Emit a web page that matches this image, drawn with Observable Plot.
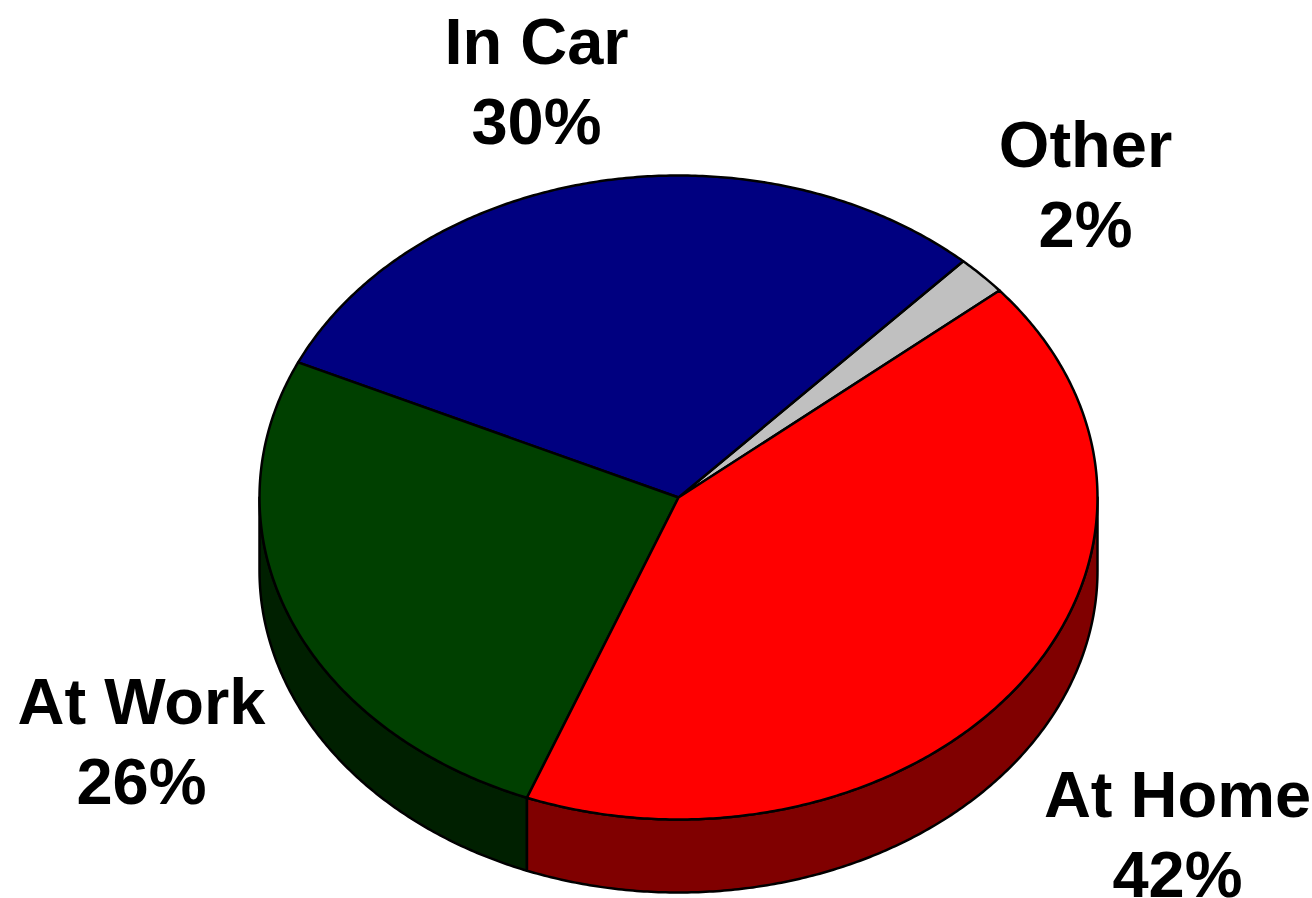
<!DOCTYPE html>
<html>
<head>
<meta charset="utf-8">
<script src="https://cdn.jsdelivr.net/npm/d3@7"></script>
<script src="https://cdn.jsdelivr.net/npm/@observablehq/plot@0.6"></script>
<style>
  html, body { margin: 0; padding: 0; background: #fff; }
  #chart { width: 1312px; height: 898px; }
</style>
</head>
<body>
<div id="chart"></div>
<script>
// ---- data ----
const categories = ["Other", "In Car", "At Work", "At Home"];
const values = [2, 30, 26, 42];
const topColors = ["#C0C0C0", "#000080", "#004000", "#FF0000"];
const sideColors = ["#808080", "#000040", "#002000", "#800000"];

// ---- layout ----
const W = 1312, H = 898;
const cx = 678, cy = 497, rx = 419, ry = 322, depth = 73;
const startAngle = 40; // degrees, math convention, slices run counter-clockwise
const fontSize = 65, lineHeight = 80 / 65;
const labelPos = {
  "In Car": [536, 78],
  "Other": [1085, 181],
  "At Work": [141, 738],
  "At Home": [1177, 831]
};

const rad = d => d * Math.PI / 180;
const pt = (a, dy = 0) => ({x: cx + rx * Math.cos(rad(a)), y: cy - ry * Math.sin(rad(a)) + dy});
const arcPts = (a0, a1, dy = 0) => {
  const n = Math.max(2, Math.ceil(Math.abs(a1 - a0) / 0.5));
  return d3.range(n + 1).map(i => pt(a0 + (a1 - a0) * i / n, dy));
};

const total = d3.sum(values);
let acc = startAngle;
const slices = categories.map((c, i) => {
  const a0 = acc, a1 = acc + values[i] / total * 360;
  acc = a1;
  return {name: c, value: values[i], a0, a1, top: topColors[i], side: sideColors[i]};
});

// top polygons
const tops = slices.map(s => ({...s, points: [{x: cx, y: cy}, ...arcPts(s.a0, s.a1)]}));

// side polygons (visible lower half 180..360 deg, plus wrap 540..720)
const sides = [];
for (const s of slices) {
  for (const [lo, hi] of [[180, 360], [540, 720]]) {
    const a = Math.max(s.a0, lo), b = Math.min(s.a1, hi);
    if (b > a) {
      sides.push({...s, points: [...arcPts(a, b), ...arcPts(b, a, depth)]});
    }
  }
}

const marks = [
  ...sides.map(s => Plot.line(s.points, {x: "x", y: "y", fill: s.side, stroke: "black", strokeWidth: 2.5, strokeLinejoin: "round", curve: "linear-closed"})),
  ...tops.map(s => Plot.line(s.points, {x: "x", y: "y", fill: s.top, stroke: "black", strokeWidth: 2.5, strokeLinejoin: "round", curve: "linear-closed"})),
  Plot.text(slices, {
    x: d => labelPos[d.name][0],
    y: d => labelPos[d.name][1],
    text: d => `${d.name}\n${d.value}%`,
    fontSize, lineHeight,
    fontWeight: "bold",
    fontFamily: "'Liberation Sans', Arial, sans-serif",
    fill: "black",
    textAnchor: "middle"
  })
];

const chart = Plot.plot({
  width: W, height: H,
  margin: 0,
  x: {domain: [0, W], range: [0, W], axis: null},
  y: {domain: [0, H], range: [0, H], axis: null},
  style: {background: "white", overflow: "visible"},
  marks
});
document.getElementById("chart").append(chart);
</script>
</body>
</html>
